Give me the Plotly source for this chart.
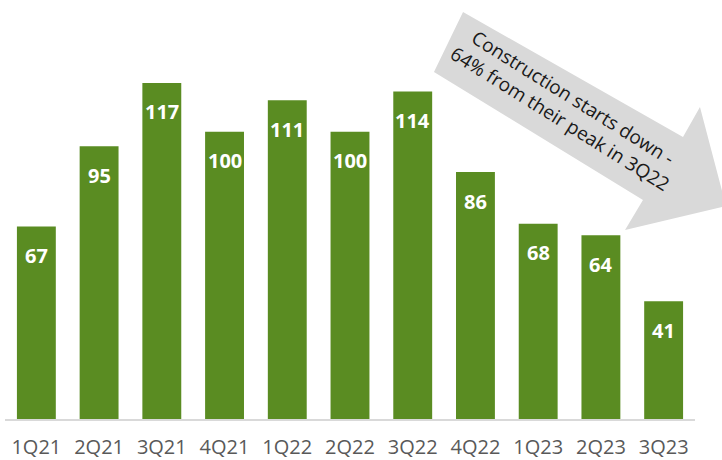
import plotly.graph_objects as go

quarters = ["1Q21", "2Q21", "3Q21", "4Q21", "1Q22", "2Q22", "3Q22", "4Q22", "1Q23", "2Q23", "3Q23"]
starts = [67, 95, 117, 100, 111, 100, 114, 86, 68, 64, 41]

W, H = 722, 460
ML, MR, MT, MB = 5, 27, 0, 41
PW, PH = W - ML - MR, H - MT - MB


def px(x, y):
    return (x - ML) / PW, (H - MB - y) / PH


BAR = "#5A8C22"
FONT = "Open Sans"

fig = go.Figure()
fig.add_trace(go.Bar(
    x=quarters, y=starts, marker=dict(color=BAR, line=dict(width=0)),
    width=0.62, hoverinfo="skip",
))

for q, v in zip(quarters, starts):
    fig.add_annotation(x=q, y=v, text=f"<b>{v}</b>", showarrow=False,
                       yshift=-29, yanchor="middle",
                       font=dict(family=FONT, size=20, color="white"))

# arrow shape
pts = [(463, 12), (683, 137), (700, 107), (726, 206), (625, 230), (643, 200), (434, 72)]
path = "M " + " L ".join(f"{px(a, b)[0]:.4f},{px(a, b)[1]:.4f}" for a, b in pts) + " Z"
fig.add_shape(type="path", xref="paper", yref="paper", path=path,
              fillcolor="#D9D9D9", line=dict(width=0), layer="above")

cx, cy = px(567, 108)
fig.add_annotation(xref="paper", yref="paper", x=cx, y=cy, showarrow=False,
                   text="Construction starts down -<br>64% from their peak in 3Q22",
                   textangle=32, xanchor="center", yanchor="middle",
                   font=dict(family=FONT, size=19, color="#1A1A1A"))

fig.update_layout(
    width=W, height=H, margin=dict(l=ML, r=MR, t=MT, b=MB, autoexpand=False),
    plot_bgcolor="white", paper_bgcolor="white", showlegend=False,
    xaxis=dict(range=[-0.5, 10.5], showline=True, linecolor="#D9D9D9", linewidth=1.5,
               ticks="outside", ticklen=9, tickcolor="rgba(0,0,0,0)",
               tickfont=dict(family=FONT, size=20, color="#595959"),
               showgrid=False, zeroline=False, fixedrange=True),
    yaxis=dict(range=[0, PH / 2.872], visible=False, fixedrange=True),
)

fig.write_html("out.html", config=dict(displayModeBar=False),
               post_script="document.body.style.margin='0';document.body.style.overflow='hidden';")
